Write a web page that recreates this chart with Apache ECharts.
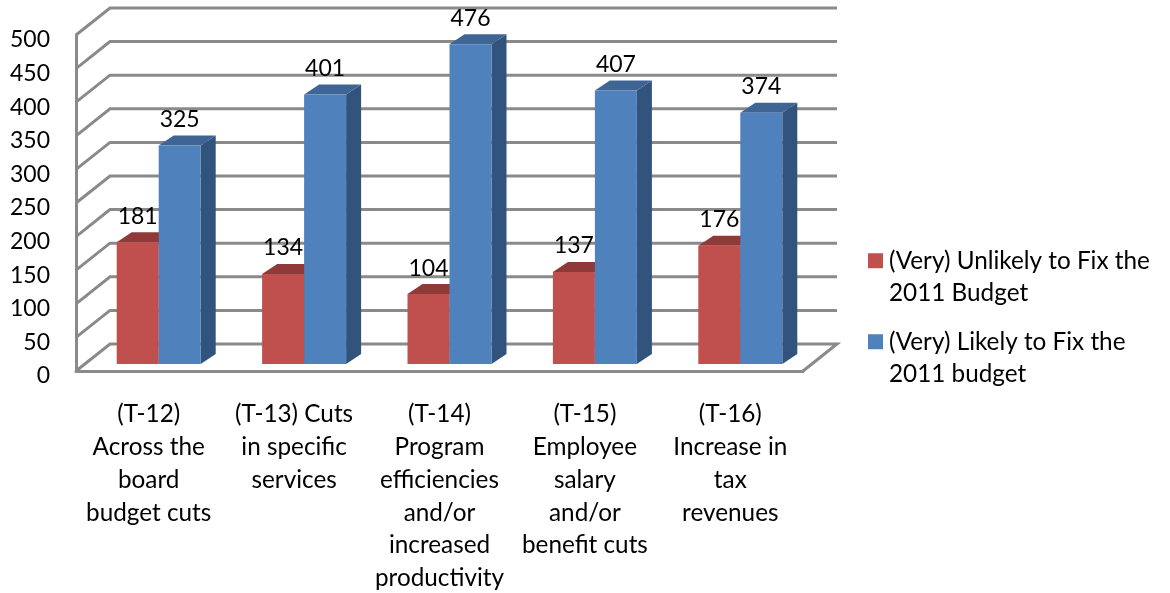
<!DOCTYPE html>
<html>
<head>
<meta charset="utf-8">
<style>
  html, body { margin: 0; padding: 0; background: #fff; }
  #chart { width: 1170px; height: 593px; }
</style>
<script src="https://cdn.jsdelivr.net/npm/echarts@6/dist/echarts.min.js"></script>
</head>
<body>
<div id="chart"></div>
<script>
// ── Data ────────────────────────────────────────────────────────────────
const categories = [
  '(T-12)\nAcross the\nboard\nbudget cuts',
  '(T-13) Cuts\nin specific\nservices',
  '(T-14)\nProgram\nefficiencies\nand/or\nincreased\nproductivity',
  '(T-15)\nEmployee\nsalary\nand/or\nbenefit cuts',
  '(T-16)\nIncrease in\ntax\nrevenues',
];
const unlikelyValues = [181, 134, 104, 137, 176];
const likelyValues = [325, 401, 476, 407, 374];
const yTicks = [0, 50, 100, 150, 200, 250, 300, 350, 400, 450, 500];
const unlikelyName = '(Very) Unlikely to Fix the\n2011 Budget';
const likelyName = '(Very) Likely to Fix the\n2011 budget';

// ── Style ───────────────────────────────────────────────────────────────
const fontFamily = 'Lato, sans-serif';
const fontSize = 24.3;      // words
const digitSize = 23;       // numbers, Lato digits run wide
const textColor = '#000000';
const wallColor = '#8a8a8a';
const red = { front: '#C0504D', top: '#8F3A38', side: '#7E3230' };
const blue = { front: '#4F81BD', top: '#3F6594', side: '#32537C' };

// 3D look: how far the back wall sits from the front plane, in pixels
const wallDepth = [34, -27];
// bars stand a little behind the front plane and have their own depth
const barInset = [10, -7];
const barDepth = [15, -10];
const barWidth = 42;

function renderWall(params, api) {
  const sys = params.coordSys;
  const y = api.coord([0, api.value(0)])[1];
  const left = sys.x;
  const right = sys.x + sys.width;
  const points = [
    [left, y],
    [left + wallDepth[0], y + wallDepth[1]],
    [right + wallDepth[0], y + wallDepth[1]],
  ];
  // the floor also closes on the right hand side
  if (api.value(0) === 0) points.push([right, y]);
  return {
    type: 'polyline',
    shape: { points },
    style: { stroke: wallColor, lineWidth: 3, fill: null },
  };
}

function barRenderer(colors, side) {
  return (params, api) => {
    const idx = api.value(0);
    const value = api.value(1);
    const center = api.coord([idx, 0])[0] + barInset[0];
    const x0 = side < 0 ? center - barWidth : center;
    const x1 = x0 + barWidth;
    const base = api.coord([idx, 0])[1] + barInset[1];
    const top = api.coord([idx, value])[1] + barInset[1];
    const dx = barDepth[0];
    const dy = barDepth[1];
    return {
      type: 'group',
      children: [
        { type: 'polygon', shape: { points: [[x1, top], [x1 + dx, top + dy], [x1 + dx, base + dy], [x1, base]] }, style: { fill: colors.side } },
        { type: 'polygon', shape: { points: [[x0, top], [x0 + dx, top + dy], [x1 + dx, top + dy], [x1, top]] }, style: { fill: colors.top } },
        { type: 'rect', shape: { x: x0, y: top, width: barWidth, height: base - top }, style: { fill: colors.front } },
        {
          type: 'text',
          style: {
            text: String(value), x: (x0 + x1) / 2, y: top - 26,
            align: 'center', verticalAlign: 'middle',
            fontSize: digitSize, fontFamily, fill: textColor,
          },
        },
      ],
    };
  };
}

const chart = echarts.init(document.getElementById('chart'), null, { renderer: 'canvas' });
chart.setOption({
  animation: false,
  tooltip: { show: false },
  // long category labels must not shrink the plot
  grid: { left: 76, top: 35, width: 727, height: 336, outerBoundsMode: 'none' },
  legend: [
    {
      data: [unlikelyName], left: 868, top: 212, orient: 'vertical', icon: 'rect',
      itemWidth: 15, itemHeight: 15, itemGap: 0, selectedMode: false, padding: 0,
      formatter: name => '\n' + name,
      textStyle: { fontSize, fontFamily, color: textColor, lineHeight: 32.5, padding: [0, 0, 0, 1] },
    },
    {
      data: [likelyName], left: 868, top: 293, orient: 'vertical', icon: 'rect',
      itemWidth: 15, itemHeight: 15, itemGap: 0, selectedMode: false, padding: 0,
      formatter: name => '\n' + name,
      textStyle: { fontSize, fontFamily, color: textColor, lineHeight: 32.5, padding: [0, 0, 0, 1] },
    },
  ],
  xAxis: {
    type: 'category',
    data: categories,
    axisLine: { show: true, lineStyle: { color: wallColor, width: 3 } },
    axisTick: { show: false },
    axisLabel: {
      interval: 0, margin: 27, fontSize, fontFamily, color: textColor,
      lineHeight: 32.8, align: 'center', verticalAlign: 'top',
    },
  },
  yAxis: {
    type: 'value',
    min: 0, max: 500, interval: 50,
    axisLine: { show: true, lineStyle: { color: wallColor, width: 3 } },
    axisTick: { show: false },
    splitLine: { show: false },
    axisLabel: { margin: 26, fontSize: digitSize, fontFamily, color: textColor, verticalAlign: 'top', lineHeight: 10 },
  },
  series: [
    {
      name: 'wall', type: 'custom', silent: true, clip: false, z: 1,
      data: yTicks.map(t => [t]),
      encode: { y: 0 },
      renderItem: renderWall,
    },
    {
      name: unlikelyName, type: 'custom', silent: true, clip: false, z: 2,
      itemStyle: { color: red.front },
      data: unlikelyValues.map((v, i) => [i, v]),
      encode: { x: 0, y: 1 },
      renderItem: barRenderer(red, -1),
    },
    {
      name: likelyName, type: 'custom', silent: true, clip: false, z: 3,
      itemStyle: { color: blue.front },
      data: likelyValues.map((v, i) => [i, v]),
      encode: { x: 0, y: 1 },
      renderItem: barRenderer(blue, 1),
    },
  ],
});
</script>
</body>
</html>
